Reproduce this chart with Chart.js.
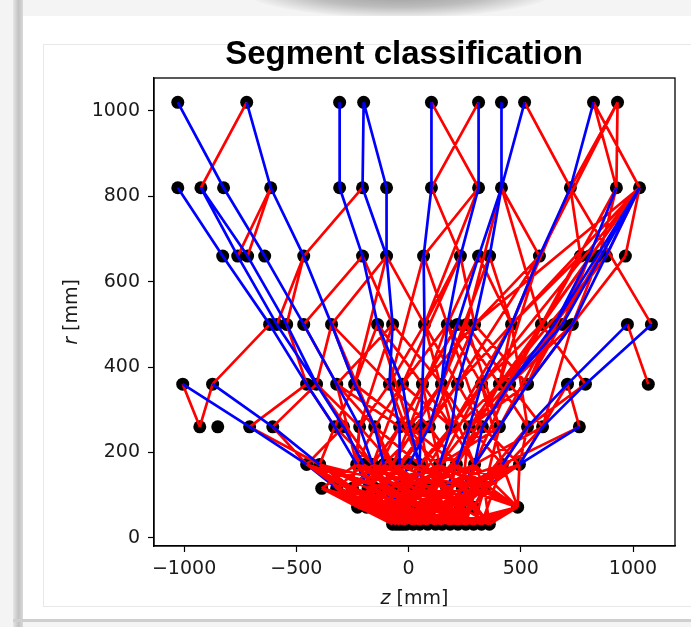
<!DOCTYPE html>
<html>
<head>
<meta charset="utf-8">
<script src="https://cdn.jsdelivr.net/npm/chart.js@4.4.1/dist/chart.umd.min.js"></script>
<style>
  html, body { margin: 0; padding: 0; }
  body { width: 691px; height: 627px; position: relative; overflow: hidden; background: #f4f4f4; }
  #shadeTop { position: absolute; left: 240px; top: -42px; width: 320px; height: 60px; border-radius: 50%;
    background: radial-gradient(ellipse at center, #8d8d8d 0%, #bdbdbd 45%, rgba(244,244,244,0) 72%); }
  #sheet { position: absolute; left: 22px; top: 16px; width: 669px; height: 604px; background: #fff; }
  #leftBar { position: absolute; left: 13px; top: 0; width: 10px; height: 627px;
    background: linear-gradient(to right, #e6e6e6, #c2c2c2 55%, #d9d9d9); }
  #bottomLine { position: absolute; left: 13px; top: 619px; width: 678px; height: 3px; background: #cfcfcf; }
  #panel { position: absolute; left: 43px; top: 44px; width: 660px; height: 561px; border: 1px solid #e8e8e8; background: #fff; }
  #wrap { position: absolute; left: 0; top: 0; width: 691px; height: 627px; }
</style>
</head>
<body>
<div id="shadeTop"></div>
<div id="sheet"></div>
<div id="leftBar"></div>
<div id="bottomLine"></div>
<div id="panel"></div>
<div id="wrap"><canvas id="segChart" width="691" height="627"></canvas></div>
<script>
// detector layers (r in mm) and the hit z positions on each of them
const layerRadii = [1020, 820, 660, 500, 360, 260, 172, 116, 72, 32];
const hitsL1020 = [-1028, -721, -307, -200, 102, 312, 414, 517, 824, 931];
const hitsL820 = [-1028, -925, -824, -614, -307, -205, -98, 102, 312, 414, 721, 926, 1029];
const hitsL660 = [-828, -761, -717, -641, -467, -205, -98, 67, 231, 312, 361, 583, 766, 806, 850, 881, 966];
const hitsL500 = [-619, -587, -543, -467, -343, -138, -71, 71, 173, 218, 258, 294, 459, 592, 650, 686, 730, 975, 1082];
const hitsL360 = [-1006, -873, -454, -410, -320, -240, -85, -27, 62, 147, 218, 325, 405, 450, 530, 708, 788, 1068];
const hitsL260 = [-930, -850, -708, -605, -329, -290, -218, -151, -40, 4, 55, 93, 191, 271, 329, 405, 530, 597, 761];
const hitsL172 = [-454, -396, -231, -200, -160, -110, -71, -40, 0, 49, 138, 213, 294, 418, 494];
const hitsL116 = [-387, -320, -250, -180, -150, -110, -80, -40, 30, 60, 100, 170, 240, 300, 338];
const hitsL72 = [-227, -187, -130, -100, -70, -50, -10, 50, 110, 170, 230, 290, 486];
const hitsL32 = [-71, -55, -40, -25, -10, 20, 50, 85, 120, 150, 185, 220, 255, 290, 325, 360];

// true segments, written as chains of [z, r] hits (outer -> inner)
const trueTracks = [
  [[-1028,1020],[-824,820],[-641,660],[-467,500],[-320,360],[-218,260],[-160,172],[-110,116],[-70,72],[-40,32]],
  [[-1028,820],[-828,660],[-619,500],[-454,360],[-329,260],[-231,172],[-180,116],[-130,72],[-71,32]],
  [[-925,820],[-761,660],[-587,500],[-410,360],[-290,260],[-200,172],[-150,116],[-100,72],[-55,32]],
  [[-925,820],[-717,660],[-543,500],[-410,360]],
  [[-721,1020],[-614,820],[-467,660],[-343,500],[-240,360],[-151,260],[-110,172],[-80,116],[-50,72],[-25,32]],
  [[-1006,360],[-708,260],[-454,172],[-320,116],[-187,72],[-71,32]],
  [[-873,360],[-605,260],[-396,172],[-250,116],[-130,72],[-40,32]],
  [[-307,1020],[-307,820],[-205,660],[-138,500],[-27,360],[4,260],[49,172],[60,116],[110,72],[120,32]],
  [[-200,1020],[-205,820],[-98,660],[-71,500],[-85,360],[-40,260],[-40,172],[-40,116],[-10,72],[-10,32]],
  [[-200,1020],[-98,820],[-98,660]],
  [[102,1020],[102,820],[67,660],[71,500],[62,360],[55,260],[49,172],[30,116],[-10,72],[20,32]],
  [[312,1020],[312,820],[231,660],[173,500],[147,360],[93,260],[0,172],[-40,116],[-70,72],[-71,32]],
  [[414,1020],[414,820],[312,660],[218,500],[147,360]],
  [[517,1020],[414,820],[361,660],[294,500],[218,360],[191,260],[138,172],[100,116],[110,72],[120,32]],
  [[824,1020],[721,820],[583,660],[459,500],[325,360],[271,260],[213,172],[170,116],[170,72],[150,32]],
  [[926,820],[806,660],[650,500],[450,360],[329,260],[294,172],[240,116],[230,72],[220,32]],
  [[975,500],[708,360],[530,260],[418,172],[300,116],[230,72],[150,32]],
  [[1082,500],[788,360],[597,260],[494,172],[338,116],[290,72],[185,32]],
  [[761,260],[494,172]],
  [[1029,820],[730,500],[530,360],[405,260],[294,172]],
  [[1029,820],[686,500],[450,360]],
  [[1029,820],[650,500]]
];

// fake segments: [z1, r1, z2, r2]
const fakeSegments = [
  [-721,1020,-925,820],[102,1020,312,820],[312,1020,102,820],[517,1020,721,820],
  [824,1020,926,820],[824,1020,1029,820],[931,1020,926,820],[931,1020,721,820],
  [-614,820,-761,660],[-614,820,-717,660],[-205,820,-467,660],[102,820,231,660],
  [312,820,67,660],[414,820,583,660],[721,820,766,660],[926,820,850,660],
  [1029,820,966,660],[1029,820,881,660],[414,820,592,500],[721,820,1082,500],
  [1029,820,592,500],[931,1020,583,660],
  [1029,820,459,500],[1029,820,294,500],[926,820,592,500],[721,820,459,500],
  [414,820,258,500],[312,820,71,500],[1029,820,405,360],[1029,820,325,360],
  [-467,660,-543,500],[-467,660,-587,500],[-205,660,-467,500],[-98,660,-343,500],
  [-98,660,71,500],[-205,660,-71,500],[67,660,173,500],[231,660,71,500],
  [231,660,294,500],[312,660,173,500],[312,660,459,500],[361,660,459,500],
  [583,660,294,500],[583,660,459,500],[766,660,592,500],[766,660,459,500],
  [806,660,686,500],[850,660,730,500],[881,660,650,500],[966,660,730,500],
  [583,660,218,360],[583,660,405,360],[766,660,450,360],[850,660,530,360],
  [231,660,-27,360],[361,660,147,360],[67,660,-85,360],[-98,660,-240,360],
  [806,660,530,360],[881,660,405,360],
  [-619,500,-873,360],[-543,500,-454,360],[-467,500,-320,360],[-343,500,-410,360],
  [-343,500,-240,360],[-343,500,-85,360],[-138,500,-240,360],[-138,500,62,360],
  [-71,500,-320,360],[-71,500,147,360],[71,500,-85,360],[71,500,218,360],
  [173,500,-27,360],[173,500,325,360],[218,500,62,360],[218,500,405,360],
  [258,500,147,360],[258,500,450,360],[294,500,530,360],[294,500,62,360],
  [459,500,218,360],[459,500,405,360],[592,500,450,360],[592,500,325,360],
  [592,500,788,360],[650,500,530,360],[686,500,405,360],[730,500,530,360],
  [730,500,450,360],[975,500,1068,360],
  [294,500,93,260],[258,500,405,260],[218,500,-40,260],[71,500,191,260],
  [-71,500,-218,260],[-138,500,4,260],[592,500,329,260],[650,500,405,260],
  [686,500,271,260],[730,500,597,260],[459,500,530,260],[173,500,329,260],
  [-1006,360,-930,260],[-873,360,-930,260],[-454,360,-708,260],[-410,360,-605,260],
  [-454,360,-329,260],[-410,360,-218,260],[-320,360,-151,260],[-320,360,-40,260],
  [-240,360,-329,260],[-240,360,4,260],[-85,360,-218,260],[-85,360,93,260],
  [-27,360,-151,260],[-27,360,191,260],[62,360,-40,260],[62,360,191,260],
  [147,360,4,260],[147,360,271,260],[218,360,93,260],[218,360,329,260],
  [325,360,191,260],[325,360,405,260],[405,360,271,260],[405,360,530,260],
  [450,360,329,260],[450,360,597,260],[530,360,405,260],[530,360,271,260],
  [708,360,597,260],[708,360,761,260],[788,360,530,260],
  [218,360,-40,172],[405,360,213,172],[450,360,294,172],[-27,360,-160,172],
  [62,360,138,172],[530,360,294,172],[325,360,418,172],[-240,360,-71,172],
  [-320,360,-231,172],[147,360,294,172],[405,360,49,172],[708,360,494,172],
  [-410,360,-160,172],
  [-605,260,-454,172],[-708,260,-396,172],[-329,260,-396,172],[-329,260,-160,172],
  [-290,260,-454,172],[-218,260,-231,172],[-218,260,-71,172],[-151,260,-231,172],
  [-151,260,49,172],[-40,260,-160,172],[-40,260,138,172],[4,260,-71,172],
  [4,260,213,172],[55,260,-110,172],[93,260,-40,172],[93,260,213,172],
  [191,260,49,172],[191,260,294,172],[271,260,138,172],[271,260,418,172],
  [329,260,213,172],[329,260,494,172],[405,260,294,172],[405,260,138,172],
  [530,260,418,172],[530,260,494,172],[597,260,294,172],[761,260,418,172],
  [191,260,30,116],[271,260,240,116],[329,260,100,116],[93,260,-110,116],
  [4,260,170,116],[-151,260,-40,116],[405,260,338,116],[530,260,300,116],
  [-218,260,-250,116],[-40,260,-180,116],[55,260,100,116],[597,260,338,116],
  [-454,172,-250,116],[-396,172,-320,116],[-396,172,-110,116],[-231,172,-387,116],
  [-231,172,-40,116],[-200,172,-320,116],[-160,172,-250,116],[-160,172,30,116],
  [-110,172,-180,116],[-71,172,-180,116],[-71,172,100,116],[-40,172,-110,116],
  [-40,172,170,116],[0,172,-150,116],[49,172,-40,116],[49,172,170,116],
  [138,172,30,116],[138,172,240,116],[213,172,100,116],[213,172,300,116],
  [294,172,170,116],[294,172,338,116],[418,172,240,116],[418,172,338,116],
  [494,172,300,116],[494,172,170,116],
  [-454,172,-110,116],[-396,172,30,116],[-231,172,100,116],[-160,172,170,116],
  [-110,172,60,116],[0,172,240,116],[49,172,300,116],[138,172,-80,116],
  [213,172,-40,116],[294,172,60,116],[418,172,100,116],[494,172,240,116],
  [-200,172,-40,116],[-71,172,-250,116],
  [-231,172,-100,72],[-160,172,-50,72],[0,172,110,72],[49,172,-70,72],
  [213,172,290,72],[294,172,230,72],[-40,172,-187,72],[138,172,170,72],
  [418,172,290,72],[494,172,230,72],[-110,172,-227,72],[-200,172,-10,72],
  [-454,172,-187,72],[-396,172,-130,72],[-231,172,50,72],[-160,172,110,72],
  [-71,172,170,72],[49,172,290,72],[138,172,486,72],[213,172,486,72],
  [294,172,486,72],[418,172,486,72],[-40,172,-227,72],
  [-387,116,-187,72],[-387,116,-227,72],[-320,116,-130,72],[-250,116,-70,72],
  [-250,116,-227,72],[-180,116,-10,72],[-150,116,-187,72],[-110,116,-130,72],
  [-110,116,50,72],[-80,116,-10,72],[-40,116,-100,72],[-40,116,110,72],
  [30,116,-50,72],[30,116,170,72],[60,116,-10,72],[100,116,50,72],
  [100,116,230,72],[170,116,110,72],[170,116,290,72],[240,116,170,72],
  [240,116,486,72],[300,116,230,72],[300,116,486,72],[338,116,290,72],
  [338,116,486,72],
  [-320,116,-227,72],[-180,116,-100,72],[-80,116,50,72],[60,116,170,72],
  [100,116,-50,72],[170,116,230,72],[240,116,290,72],[338,116,230,72],
  [-387,116,-70,72],[-320,116,-10,72],[-250,116,50,72],[-180,116,110,72],
  [-150,116,-50,72],[-110,116,170,72],[-80,116,-187,72],[-40,116,230,72],
  [30,116,290,72],[60,116,-130,72],[100,116,290,72],[170,116,-10,72],
  [240,116,50,72],[300,116,110,72],[338,116,170,72],
  [-250,116,-71,32],[-180,116,-40,32],[-110,116,20,32],[-80,116,85,32],
  [30,116,-55,32],[60,116,185,32],[100,116,220,32],[170,116,290,32],
  [240,116,325,32],[300,116,185,32],[338,116,290,32],[-150,116,50,32],
  [-320,116,-55,32],[240,116,360,32],
  [-387,116,-71,32],[-320,116,50,32],[-250,116,120,32],[-180,116,150,32],
  [-110,116,255,32],[-40,116,290,32],[30,116,325,32],[100,116,360,32],
  [338,116,150,32],[300,116,85,32],
  [-231,172,-10,32],[-71,172,85,32],[138,172,50,32],[213,172,150,32],
  [294,172,255,32],[418,172,325,32],[-396,172,-40,32],
  [-227,72,-10,32],[-187,72,-71,32],[-130,72,20,32],[-100,72,-40,32],
  [-70,72,85,32],[-50,72,-55,32],[-10,72,-40,32],[-10,72,120,32],
  [50,72,-10,32],[50,72,150,32],[110,72,50,32],[110,72,185,32],
  [170,72,85,32],[170,72,220,32],[230,72,120,32],[230,72,255,32],
  [290,72,185,32],[290,72,325,32],[486,72,360,32],[486,72,290,32],
  [486,72,255,32],
  [-227,72,-40,32],[-187,72,20,32],[-130,72,-71,32],[-100,72,50,32],
  [-70,72,-25,32],[50,72,120,32],[110,72,20,32],[170,72,290,32],
  [230,72,185,32],[290,72,360,32],[-50,72,85,32],[486,72,325,32],
  [-227,72,85,32],[-187,72,150,32],[-130,72,120,32],[-100,72,185,32],
  [-70,72,220,32],[-50,72,255,32],[-10,72,290,32],[50,72,325,32],
  [110,72,360,32],[170,72,-25,32],[230,72,20,32],[290,72,50,32],
  [486,72,185,32],[486,72,220,32],
  [-454,172,-130,72],[-454,172,-70,72],[-396,172,-10,72],[-387,116,-40,32],
  [-320,116,-10,32],[-387,116,20,32],[-227,72,50,32],[-320,116,-25,32],
  [-343,500,-151,260],[173,500,4,260],[459,500,191,260],[-85,360,49,172],
  [147,360,-71,172],[325,360,138,172],[213,172,50,72],[138,172,-10,72],
  [294,172,110,72],[-71,172,50,72],[49,172,230,72],[418,172,170,72],
  [494,172,486,72],[-40,116,150,32],[100,116,-10,32],[170,116,50,32],
  [240,116,120,32],[300,116,255,32],[338,116,360,32]
];

const xTickValues = [-1000, -500, 0, 500, 1000];
const yTickValues = [0, 200, 400, 600, 800, 1000];

const hitLayers = [hitsL1020, hitsL820, hitsL660, hitsL500, hitsL360, hitsL260, hitsL172, hitsL116, hitsL72, hitsL32];
const hitPoints = [];
layerRadii.forEach((r, i) => hitLayers[i].forEach(z => hitPoints.push({x: z, y: r})));

// true segments outside r = 172 are drawn above the red ones, inner ones below
const blueUpper = [];
const blueLower = [];
trueTracks.forEach(track => {
  for (let i = 0; i < track.length - 1; i++) {
    const [z1, r1] = track[i];
    const [z2, r2] = track[i + 1];
    const target = r2 >= 172 ? blueUpper : blueLower;
    target.push({x: z1, y: r1}, {x: z2, y: r2}, {x: 0, y: null});
  }
});
const redData = [];
fakeSegments.forEach(([z1, r1, z2, r2]) => {
  redData.push({x: z1, y: r1}, {x: z2, y: r2}, {x: 0, y: null});
});

const tickFont = {family: "'DejaVu Sans', sans-serif", size: 19};
const minusFmt = v => (v < 0 ? '\u2212' + Math.abs(v) : String(v));

// title, axis labels (italic variable) and the box around the axes
const labelPlugin = {
  id: 'labelPlugin',
  afterDraw(chart) {
    const ctx = chart.ctx;
    const a = chart.chartArea;
    ctx.save();
    ctx.strokeStyle = '#000';
    ctx.lineWidth = 1.3;
    ctx.strokeRect(a.left, a.top, a.right - a.left, a.bottom - a.top);

    ctx.fillStyle = '#000';
    ctx.textBaseline = 'middle';
    ctx.textAlign = 'center';
    ctx.font = "bold 33px 'Liberation Sans', Arial, sans-serif";
    ctx.fillText('Segment classification', 404, 55);

    function mixed(italicPart, rest, cx, cy, rot) {
      ctx.save();
      ctx.translate(cx, cy);
      ctx.rotate(rot);
      ctx.fillStyle = '#1a1a1a';
      ctx.textAlign = 'left';
      ctx.font = "oblique 19px 'DejaVu Sans', sans-serif";
      const w1 = ctx.measureText(italicPart).width;
      ctx.font = "19px 'DejaVu Sans', sans-serif";
      const w2 = ctx.measureText(rest).width;
      const x0 = -(w1 + w2) / 2;
      ctx.font = "oblique 19px 'DejaVu Sans', sans-serif";
      ctx.fillText(italicPart, x0, 0);
      ctx.font = "19px 'DejaVu Sans', sans-serif";
      ctx.fillText(rest, x0 + w1, 0);
      ctx.restore();
    }
    mixed('z', ' [mm]', (a.left + a.right) / 2, 599, 0);
    mixed('r', ' [mm]', 72, (a.top + a.bottom) / 2, -Math.PI / 2);
    ctx.restore();
  }
};

const lineStyle = (color, data, label) => ({
  label: label,
  data: data,
  showLine: true,
  spanGaps: false,
  borderColor: color,
  borderWidth: 2.7,
  pointRadius: 0,
  pointHoverRadius: 0,
  fill: false
});

new Chart(document.getElementById('segChart'), {
  type: 'scatter',
  data: {
    datasets: [
      lineStyle('#0000ff', blueUpper, 'true (outer)'),
      lineStyle('#ff0000', redData, 'fake'),
      lineStyle('#0000ff', blueLower, 'true (inner)'),
      {
        label: 'hits',
        data: hitPoints,
        pointRadius: 6.5,
        pointBackgroundColor: '#000',
        pointBorderWidth: 0,
        pointHoverRadius: 6.5
      }
    ]
  },
  options: {
    responsive: false,
    animation: false,
    events: [],
    layout: {padding: {left: 0, right: 16, top: 78, bottom: 0}},
    plugins: {legend: {display: false}, tooltip: {enabled: false}, title: {display: false}},
    scales: {
      x: {
        type: 'linear',
        min: -1134,
        max: 1187,
        afterBuildTicks: s => { s.ticks = xTickValues.map(v => ({value: v})); },
        afterFit: s => { s.height = 81; },
        ticks: {font: tickFont, color: '#1a1a1a', padding: 6, maxRotation: 0, callback: minusFmt},
        grid: {display: true, drawOnChartArea: false, drawTicks: true, tickLength: 6, color: '#000', tickWidth: 1.2},
        border: {display: true, color: '#000', width: 1.3}
      },
      y: {
        type: 'linear',
        min: -19,
        max: 1077,
        afterBuildTicks: s => { s.ticks = yTickValues.map(v => ({value: v})); },
        afterFit: s => { s.width = 154; },
        ticks: {font: tickFont, color: '#1a1a1a', padding: 8, callback: minusFmt},
        grid: {display: true, drawOnChartArea: false, drawTicks: true, tickLength: 6, color: '#000', tickWidth: 1.2},
        border: {display: true, color: '#000', width: 1.3}
      }
    }
  },
  plugins: [labelPlugin]
});
</script>
</body>
</html>
